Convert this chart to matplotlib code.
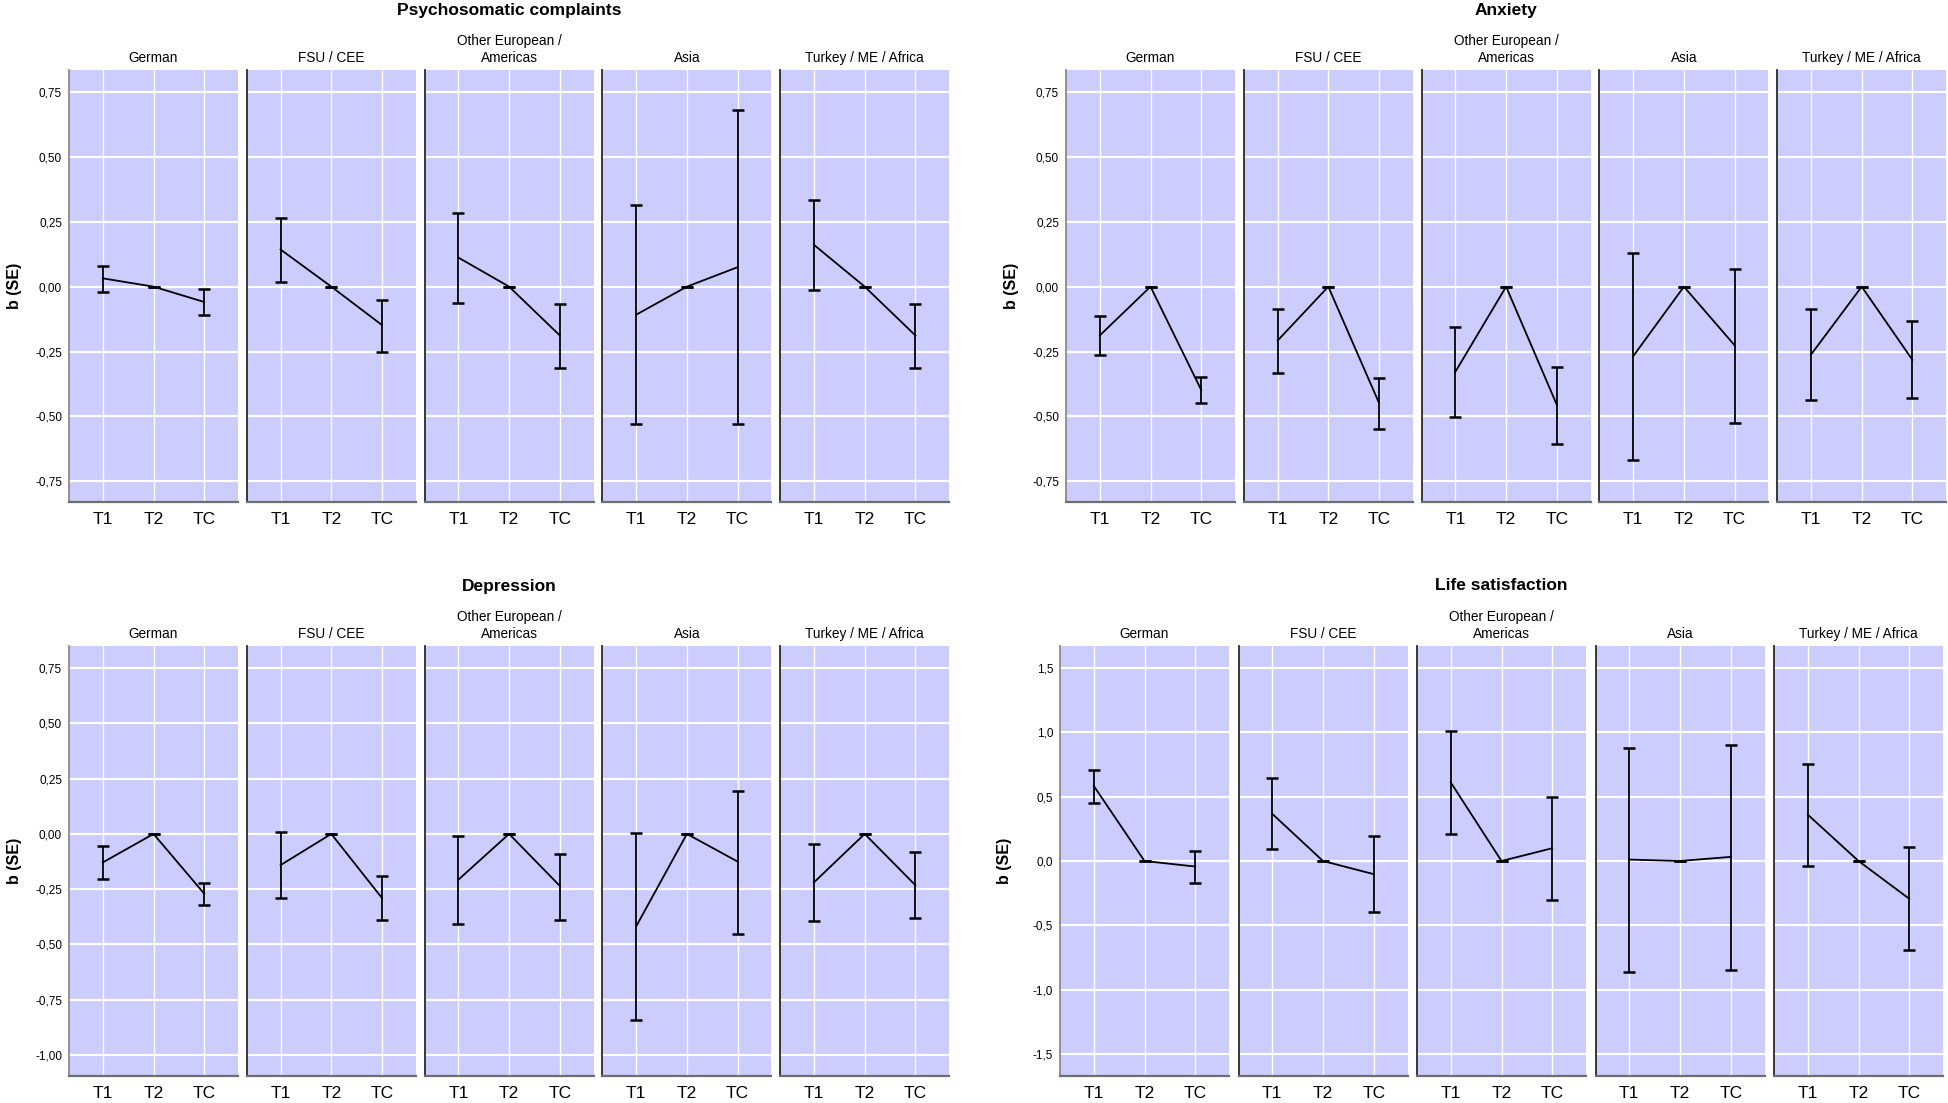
import numpy as np
import matplotlib
matplotlib.use("Agg")
import matplotlib.pyplot as plt
from matplotlib.ticker import FuncFormatter

plt.rcParams["font.family"] = ["Liberation Sans", "DejaVu Sans"]

W, H = 1948, 1103

groups = ["German", "FSU / CEE", "Other European /\nAmericas", "Asia", "Turkey / ME / Africa"]
times = ["T1", "T2", "TC"]

# estimates per group (T1, T2, TC) and lower/upper bounds of the bars
psy_b = [[0.032, 0, -0.059], [0.143, 0, -0.148], [0.112, 0, -0.188], [-0.108, 0, 0.075], [0.161, 0, -0.188]]
psy_lo = [[-0.019, 0, -0.109], [0.017, 0, -0.250], [-0.063, 0, -0.314], [-0.531, 0, -0.531], [-0.012, 0, -0.314]]
psy_hi = [[0.080, 0, -0.009], [0.264, 0, -0.051], [0.284, 0, -0.065], [0.314, 0, 0.679], [0.335, 0, -0.065]]

anx_b = [[-0.188, 0, -0.398], [-0.208, 0, -0.448], [-0.328, 0, -0.455], [-0.268, 0, -0.226], [-0.262, 0, -0.282]]
anx_lo = [[-0.263, 0, -0.447], [-0.334, 0, -0.550], [-0.503, 0, -0.607], [-0.668, 0, -0.527], [-0.435, 0, -0.430]]
anx_hi = [[-0.115, 0, -0.350], [-0.085, 0, -0.351], [-0.156, 0, -0.311], [0.128, 0, 0.069], [-0.085, 0, -0.131]]

dep_b = [[-0.129, 0, -0.270], [-0.141, 0, -0.290], [-0.207, 0, -0.235], [-0.418, 0, -0.125], [-0.219, 0, -0.232]]
dep_lo = [[-0.204, 0, -0.320], [-0.288, 0, -0.390], [-0.409, 0, -0.390], [-0.843, 0, -0.453], [-0.393, 0, -0.379]]
dep_hi = [[-0.056, 0, -0.221], [0.009, 0, -0.191], [-0.011, 0, -0.091], [0.002, 0, 0.196], [-0.047, 0, -0.082]]

life_b = [[0.583, 0, -0.043], [0.366, 0, -0.102], [0.610, 0, 0.099], [0.011, 0, 0.032], [0.360, 0, -0.293]]
life_lo = [[0.454, 0, -0.167], [0.097, 0, -0.400], [0.212, 0, -0.300], [-0.863, 0, -0.844], [-0.040, 0, -0.691]]
life_hi = [[0.704, 0, 0.081], [0.642, 0, 0.196], [1.008, 0, 0.497], [0.879, 0, 0.898], [0.755, 0, 0.105]]

fig = plt.figure(figsize=(W / 100, H / 100), dpi=100)


def px_axes(x0, y0, x1, y1):
    return fig.add_axes([x0 / W, 1 - y1 / H, (x1 - x0) / W, (y1 - y0) / H])


def comma_fmt(nd):
    return FuncFormatter(lambda v, _: f"{v:.{nd}f}".replace(".", ","))


def draw_block(title, b, lo, hi, x0, stride, y0, y1, ylim, yticks, nd):
    xs = np.arange(len(times))
    axes = []
    for i, g in enumerate(groups):
        left = x0 + i * stride
        ax = px_axes(left, y0, left + 169, y1)
        ax.set_facecolor("#ccccff")
        ax.set_axisbelow(True)
        ax.grid(True, axis="y", color="white", lw=1.6)
        ax.grid(True, axis="x", color="white", lw=1.0)
        bi = np.array(b[i], dtype=float)
        err = [bi - np.array(lo[i]), np.array(hi[i]) - bi]
        ax.errorbar(xs, bi, yerr=err, color="black", lw=1.3, elinewidth=1.3,
                    capsize=4.5, capthick=1.8)
        ax.set_xlim(-0.667, 2.667)
        ax.set_ylim(*ylim)
        ax.set_xticks(xs)
        ax.set_xticklabels(times, fontsize=12.5)
        ax.set_yticks(yticks)
        ax.yaxis.set_major_formatter(comma_fmt(nd))
        ax.tick_params(length=0, labelsize=8.5, pad=5)
        ax.tick_params(axis="x", labelsize=12.5, pad=7)
        if i > 0:
            ax.tick_params(axis="y", labelleft=False)
        for s in ("top", "right"):
            ax.spines[s].set_visible(False)
        ax.spines["bottom"].set_color("#6e6e6e")
        ax.spines["bottom"].set_linewidth(1.6)
        ax.spines["left"].set_color("#8a8a8a" if i == 0 else "#2a2a2a")
        ax.spines["left"].set_linewidth(1.3)
        ax.set_title(g, fontsize=9.8, pad=6, linespacing=1.25)
        axes.append(ax)
    cx = (x0 + x0 + 4 * stride + 169) / 2
    fig.text(cx / W, 1 - (y0 - 60) / H, title, ha="center", va="center",
             fontsize=12.5, fontweight="bold")
    fig.text((x0 - 55) / W, 1 - ((y0 + y1) / 2) / H, "b (SE)", rotation=90,
             ha="center", va="center", fontsize=11.5, fontweight="bold")
    return axes


small_ticks = [-0.75, -0.5, -0.25, 0, 0.25, 0.5, 0.75]
draw_block("Psychosomatic complaints", psy_b, psy_lo, psy_hi, 69, 177.8, 70, 502,
           (-0.83, 0.835), small_ticks, 2)
draw_block("Anxiety", anx_b, anx_lo, anx_hi, 1066, 177.8, 70, 502,
           (-0.83, 0.835), small_ticks, 2)
draw_block("Depression", dep_b, dep_lo, dep_hi, 69, 177.8, 646, 1076,
           (-1.095, 0.85), [-1.0, -0.75, -0.5, -0.25, 0, 0.25, 0.5, 0.75], 2)
draw_block("Life satisfaction", life_b, life_lo, life_hi, 1060, 178.5, 646, 1076,
           (-1.67, 1.67), [-1.5, -1.0, -0.5, 0, 0.5, 1.0, 1.5], 1)

fig.savefig("out.png", dpi=100)
